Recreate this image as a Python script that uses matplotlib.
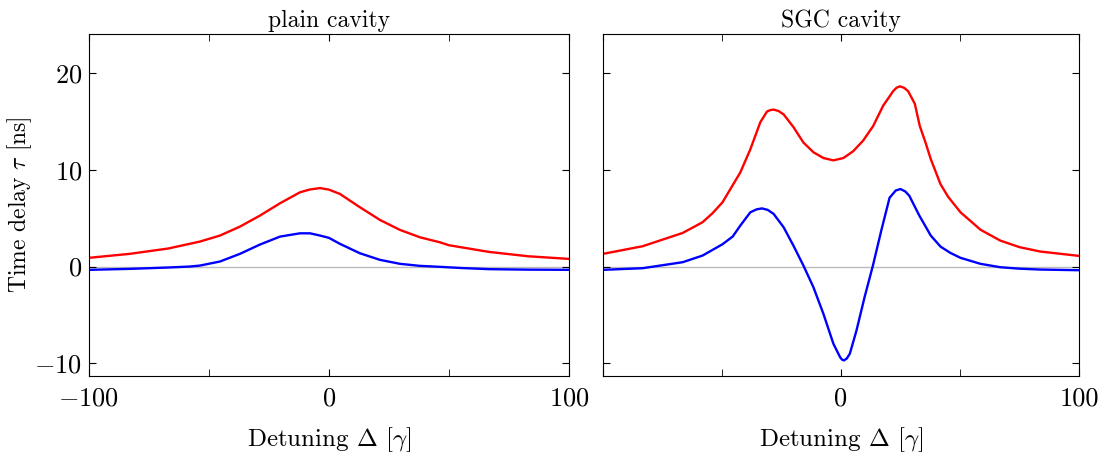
import matplotlib
matplotlib.use('Agg')
import matplotlib.pyplot as plt

plt.rcParams['font.family'] = 'serif'
plt.rcParams['font.serif'] = ['cmr10']
plt.rcParams['mathtext.fontset'] = 'cm'
plt.rcParams['axes.formatter.use_mathtext'] = True

# plain cavity, values
plain_red_x = [-100, -83, -67, -53.75, -45.4, -37.1, -28.75, -20.4, -12.1, -8, -3.75, 0, 4.6, 12.9,
               21.25, 29.6, 37.9, 46.25, 50, 66.7, 83, 100]
plain_red_y = [0.90, 1.31, 1.86, 2.58, 3.2, 4.12, 5.26, 6.53, 7.66, 7.95, 8.1, 7.94, 7.49, 6.12,
               4.81, 3.78, 3.02, 2.5, 2.2, 1.51, 1.06, 0.79]

plain_blue_x = [-100, -83, -67, -58, -53.75, -45.4, -37.1, -28.75, -20.4, -12.1, -7.9, -3.75, 0, 4.6,
                12.9, 21.25, 29.6, 37.9, 46.25, 55, 66.7, 83, 100]
plain_blue_y = [-0.34, -0.24, -0.1, 0.0, 0.1, 0.52, 1.31, 2.27, 3.09, 3.43, 3.43, 3.2, 2.96, 2.34,
                1.37, 0.69, 0.28, 0.07, -0.03, -0.15, -0.27, -0.32, -0.34]

# SGC cavity
sgc_red_x = [-100, -83.3, -66.5, -58.2, -54, -49.8, -42.3, -38.1, -33.9, -31.1, -29.7, -28.3, -26.2,
             -24.1, -20.0, -15.8, -11.6, -7.4, -3.2, 1.0, 5.1, 9.3, 13.5, 17.7, 21.9, 23.3, 24.7, 26.5,
             28.2, 31.0, 33.1, 35.5, 37.7, 41.8, 45, 50.2, 58.6, 66.9, 75, 83.7, 100]
sgc_red_y = [1.31, 2.1, 3.47, 4.57, 5.5, 6.63, 9.72, 12.1, 14.9, 16.0, 16.15, 16.2, 16.05,
             15.7, 14.4, 12.8, 11.8, 11.2, 10.96, 11.2, 11.9, 13.0, 14.5, 16.6, 18.1, 18.45, 18.6, 18.45,
             18.1, 16.8, 14.5, 12.8, 11.1, 8.5, 7.2, 5.6, 3.8, 2.68, 2.0, 1.55, 1.1]

sgc_blue_x = [-100, -83.3, -66.5, -58.2, -49.8, -45.5, -42.3, -38.1, -35.5, -33.2, -30.8, -28.3, -24.1,
              -20.0, -15.8, -11.6, -7.4, -3.2, -0.4, 0.4, 1.2, 2.4, 3.7, 6.5, 9.9, 13.4, 16.9, 20.4,
              23.0, 25.0, 27.0, 28.7, 32.9, 37.7, 41.8, 46, 50.2, 58.6, 66.9, 75, 83.7, 100]
sgc_blue_y = [-0.34, -0.17, 0.45, 1.13, 2.3, 3.1, 4.23, 5.6, 5.9, 6.0, 5.85, 5.43, 4.05,
              2.16, 0.1, -2.13, -4.88, -7.97, -9.35, -9.6, -9.69, -9.5, -9.0, -6.6, -3.16, 0.1, 3.7, 7.1,
              7.85, 8.0, 7.75, 7.3, 5.26, 3.2, 2.06, 1.4, 0.9, 0.28, -0.07, -0.22, -0.31, -0.38]

fig = plt.figure(figsize=(11.05, 4.58), dpi=100)
ax1 = fig.add_axes([0.0805, 0.179, 0.4344, 0.7467])
ax2 = fig.add_axes([0.5457, 0.179, 0.4308, 0.7467])

panels = [(ax1, 'plain cavity', plain_red_x, plain_red_y, plain_blue_x, plain_blue_y),
          (ax2, 'SGC cavity', sgc_red_x, sgc_red_y, sgc_blue_x, sgc_blue_y)]

for ax, title, rx, ry, bx, by in panels:
    ax.axhline(0, color='#bbbbbb', lw=1.0, zorder=1)
    ax.plot(rx, ry, color='red', lw=1.7)
    ax.plot(bx, by, color='blue', lw=1.7)
    ax.set_xlim(-100, 100)
    ax.set_ylim(-11.3, 24)
    ax.set_xticks([-100, 0, 100])
    ax.set_xticks([-50, 50], minor=True)
    ax.set_yticks([-10, 0, 10, 20])
    ax.tick_params(which='both', direction='in', top=True, right=True, labelsize=19)
    ax.tick_params(axis='x', which='both', pad=8, length=5)
    ax.tick_params(axis='y', length=5, pad=5)
    ax.set_title(title, fontsize=17, pad=5)
    ax.set_xlabel(r'Detuning $\Delta$ [$\gamma$]', fontsize=18, labelpad=10)

ax1.set_ylabel(r'Time delay $\tau$ [ns]', fontsize=17, labelpad=0)
ax2.tick_params(labelleft=False)
# the left panel's "100" covers this spot, so the right panel shows no -100
ax2.set_xticklabels(['', '0', '100'])

fig.savefig('out.png', dpi=100)
